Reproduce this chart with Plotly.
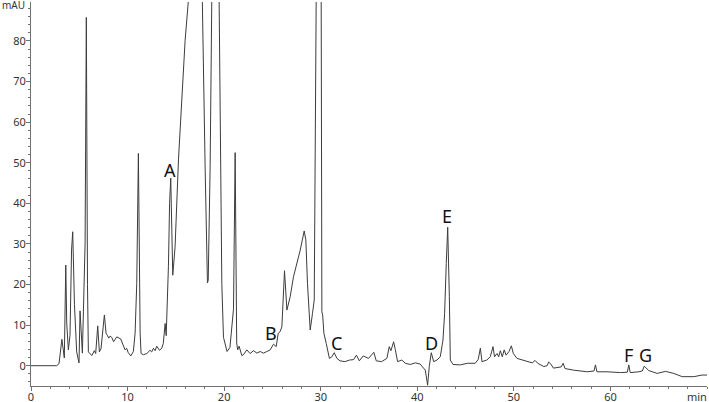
import plotly.graph_objects as go

# Retention time (min) and absorbance (mAU)
time_min = [
    0, 2.66, 2.9, 3.2, 3.45, 3.6, 3.7, 3.87, 4.04, 4.2, 4.32, 4.5, 4.73, 4.97, 5.08, 5.32,
    5.6, 5.73, 5.85, 5.94, 6.3, 6.56, 6.7, 6.91, 7.08, 7.25, 7.6, 7.77, 7.9, 8.05, 8.19,
    8.36, 8.55, 8.88, 9.29, 9.57, 9.74, 9.91, 10.05, 10.33, 10.6, 10.78, 10.95, 11.12,
    11.3, 11.4, 11.64, 11.99, 12.33, 12.5, 12.68, 12.85, 13.02, 13.3, 13.54, 13.7, 13.89,
    14.0, 14.23, 14.35, 14.47, 14.68, 14.92, 15.27, 15.6, 15.96, 16.3, 16.8, 17.2, 17.74,
    18.03, 18.27, 18.35, 18.55, 18.72, 19.0, 19.3, 19.48, 19.59, 19.76, 19.93, 20.18,
    20.3, 20.6, 20.97, 21.14, 21.3, 21.4, 21.55, 21.83, 22.0, 22.35, 22.69, 23.04, 23.39,
    23.73, 24.07, 24.42, 24.77, 25.11, 25.39, 25.6, 25.8, 25.98, 26.08, 26.25, 26.5,
    26.84, 27.18, 27.53, 27.88, 28.29, 28.46, 28.63, 28.91, 29.15, 29.33, 29.53, 29.7,
    29.9, 30.05, 30.12, 30.2, 30.33, 30.57, 30.7, 30.9, 31.16, 31.4, 31.68, 32.0, 32.5,
    33.0, 33.4, 33.7, 34.0, 34.4, 34.95, 35.5, 35.75, 36.3, 36.85, 37.1, 37.27, 37.55,
    37.72, 37.96, 38.4, 38.76, 39.27, 39.8, 40.3, 40.83, 41.07, 41.24, 41.45, 41.7, 42.04,
    42.38, 42.66, 42.83, 43.0, 43.15, 43.32, 43.42, 43.7, 44.46, 45.2, 46.0, 46.3, 46.53,
    46.7, 47.2, 47.56, 47.84, 48.0, 48.26, 48.43, 48.6, 48.8, 49.0, 49.2, 49.5, 49.74,
    49.95, 50.33, 51.0, 51.5, 51.9, 52.2, 52.47, 53.1, 53.45, 53.6, 53.8, 54.1, 54.9,
    55.1, 55.3, 56.2, 57.6, 58.3, 58.45, 58.6, 59.65, 61.04, 61.75, 61.9, 62.05, 62.93,
    63.3, 63.5, 63.97, 64.84, 65.7, 66.56, 67.43, 68.64, 69.5, 70.0,
]
absorbance_mau = [
    0, 0, 0.5, 6.5, 1.9, 24.8, 10.5, 3.9, 7.5, 28.5, 33, 15, 3.4, 0.7, 13.5, 3.1,
    30, 85.8, 20, 3.4, 2.5, 3.7, 3.0, 9.8, 3.4, 4.2, 12.5, 8, 7.5, 6.8, 7.3,
    7.0, 5.9, 7.1, 6.6, 4.7, 3.9, 4.3, 3.3, 2.4, 3.5, 8, 20.3, 52.3,
    8, 3, 2.7, 3, 3.8, 3.4, 4.3, 3.7, 4.8, 3.8, 4.3, 5.5, 10.4,
    7.4, 24.4, 40, 46.2, 22.3, 29.3, 50.7, 66.3, 80.2, 90, 115, 115, 90,
    49, 20.4, 21, 49, 90, 160, 140, 90, 57, 20, 7, 4.0,
    3.5, 4.5, 14, 52.5, 5.6, 3.9, 4.8, 2.5, 2.7, 3.9, 3.0, 3.7, 3.1,
    3.5, 3.1, 3.5, 3.9, 5.3, 4.7, 8, 8.4, 9.6, 16.2, 23.4, 13.7,
    17, 21.9, 25.2, 28.5, 33.2, 31, 20.3, 8.8, 12.9, 16.2, 90, 200,
    150, 90, 13.3, 12.5, 8, 5.5, 4.3, 1.8, 2.2, 3.2, 1.8, 1.2, 1.0,
    1.4, 1.5, 2.6, 1.2, 2.4, 1.8, 3.3, 1.2, 1.0, 1.8, 4.7, 3.7, 5.9,
    4.0, 1.0, 1.4, 0.6, 0.3, 0.7, 0.4, -1.1, -4.8, -0.2, 3.2, 1.0, 1.4,
    2.2, 6.3, 12.9, 25.2, 34.1, 17, 1.4, 0.3, 0.2, 0.6, 0.6, 1.5, 4.3,
    1.0, 1.4, 2.2, 4.7, 2.2, 3.0, 2.2, 3.7, 2.2, 3.9, 2.6, 3.5, 4.9,
    3.0, 1.8, 1.4, 1.0, 0.7, 1.3, 0.6, -0.2, 0.0, 0.9, 0.5, -0.6, -0.3,
    0.6, -0.7, -1.1, -1.5, -1.3, 0.2, -1.5, -1.5, -1.7, -1.6, 0.2, -1.7, -1.5,
    -1.3, -0.1, -1.2, -1.9, -1.4, -1.9, -2.7, -2.7, -2.3, -2.3,
]

# Peak labels
peak_labels = ["A", "B", "C", "D", "E", "F", "G"]
peak_label_t = [14.4, 24.84, 31.68, 41.52, 43.08, 61.83, 63.63]
peak_label_v = [48.2, 8.0, 5.5, 5.5, 36.9, 2.6, 2.6]

x_tick_vals = [0, 10, 20, 30, 40, 50, 60]
y_tick_vals = [0, 10, 20, 30, 40, 50, 60, 70, 80]

FONT = "Noto Sans"
AXIS_COLOR = "#707070"
TEXT_COLOR = "#333333"

fig = go.Figure()
fig.add_trace(go.Scatter(
    x=time_min, y=absorbance_mau, mode="lines",
    line=dict(color="#3c3c3c", width=1), hoverinfo="skip", showlegend=False,
))

annotations = []
for lab, t, v in zip(peak_labels, peak_label_t, peak_label_v):
    annotations.append(dict(x=t, y=v, text=lab, showarrow=False,
                            font=dict(family=FONT, size=18, color="#111111"),
                            xanchor="center", yanchor="middle"))
annotations.append(dict(xref="paper", x=0, y=88.8, text="mAU", showarrow=False,
                        xanchor="right", yanchor="middle", xshift=-4,
                        font=dict(family=FONT, size=10, color=TEXT_COLOR)))
annotations.append(dict(x=70, y=-5, text="min", showarrow=False,
                        xanchor="right", yanchor="top", yshift=-1, xshift=2,
                        font=dict(family=FONT, size=11, color=TEXT_COLOR)))

fig.update_layout(
    width=709, height=402,
    margin=dict(l=31, r=2, t=2, b=16, autoexpand=False),
    paper_bgcolor="white", plot_bgcolor="white",
    font=dict(family=FONT, size=11, color=TEXT_COLOR),
    annotations=annotations,
    xaxis=dict(
        range=[0, 70], tickmode="array", tickvals=x_tick_vals, automargin=False,
        ticks="outside", ticklen=4, tickcolor=AXIS_COLOR, tickwidth=1,
        ticklabelstandoff=-3,
        showline=True, linecolor=AXIS_COLOR, linewidth=1,
        showgrid=False, zeroline=False,
        minor=dict(tickmode="linear", tick0=0, dtick=2, ticks="outside",
                   ticklen=2, tickcolor=AXIS_COLOR),
        tickfont=dict(family=FONT, size=11, color=TEXT_COLOR),
    ),
    yaxis=dict(
        range=[-5, 89.6], tickmode="array", tickvals=y_tick_vals, automargin=False,
        ticks="outside", ticklen=4, tickcolor=AXIS_COLOR, tickwidth=1,
        ticklabelstandoff=-2,
        showline=True, linecolor=AXIS_COLOR, linewidth=1,
        showgrid=False, zeroline=False,
        minor=dict(tickmode="linear", tick0=0, dtick=2, ticks="outside",
                   ticklen=2, tickcolor=AXIS_COLOR),
        tickfont=dict(family=FONT, size=11, color=TEXT_COLOR),
    ),
)

fig.write_html("out.html", config={"displayModeBar": False},
               post_script="document.body.style.margin='0';")
